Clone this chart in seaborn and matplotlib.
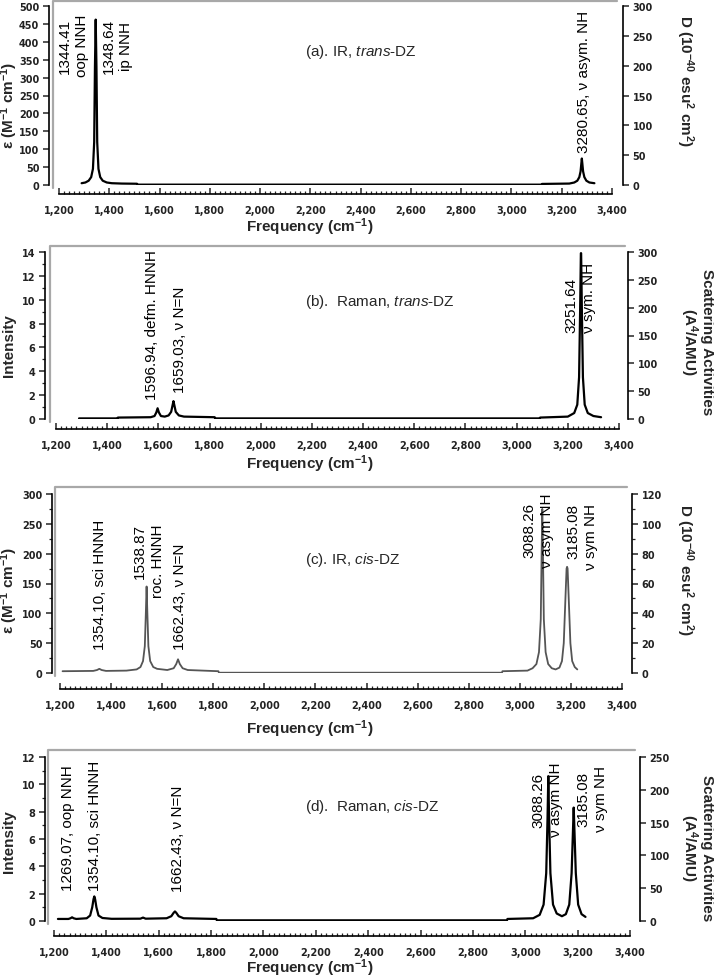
import matplotlib
matplotlib.use('Agg')
import matplotlib.pyplot as plt
import seaborn as sns
from matplotlib.ticker import MultipleLocator, FuncFormatter

# ---------------------------------------------------------
# data (wavenumber in cm-1, left-axis units)
# ---------------------------------------------------------
# (a) IR, trans-DZ  (epsilon)
wn_a = [1290, 1305, 1318, 1328, 1335, 1340, 1343, 1346, 1349, 1352, 1357, 1364,
        1374, 1390, 1410, 1450, 1510, 1512, 3120, 3122, 3230, 3250, 3262, 3270,
        3275, 3278, 3280, 3282, 3285, 3290, 3298, 3310, 3330]
eps_a = [5, 7, 12, 22, 45, 120, 330, 462, 330, 120, 45, 22,
         12, 7, 5, 4, 3.5, 1, 1, 3, 4, 7, 12, 22,
         38, 60, 74, 60, 38, 22, 12, 7, 5]

# (b) Raman, trans-DZ  (intensity)
wn_b = [1290, 1440, 1442, 1570, 1585, 1592, 1597, 1602, 1610, 1625, 1640, 1650,
        1656, 1659, 1662, 1668, 1680, 1700, 1820, 1822, 3090, 3092, 3200, 3225,
        3237, 3244, 3248, 3251, 3252, 3255, 3259, 3266, 3278, 3300, 3330]
int_b = [0.05, 0.05, 0.12, 0.15, 0.25, 0.55, 0.9, 0.55, 0.25, 0.2, 0.3, 0.6,
         1.2, 1.5, 1.2, 0.6, 0.3, 0.2, 0.15, 0.05, 0.05, 0.12, 0.2, 0.5,
         1.2, 3.5, 9, 13.9, 13.9, 9, 3.5, 1.2, 0.5, 0.25, 0.15]

# (c) IR, cis-DZ  (epsilon)
wn_c = [1210, 1330, 1345, 1354, 1363, 1380, 1460, 1500, 1515, 1525, 1532, 1536,
        1539, 1542, 1546, 1553, 1565, 1580, 1620, 1645, 1655, 1662, 1669, 1680,
        1700, 1820, 1822, 2930, 2932, 3030, 3050, 3065, 3075, 3082, 3086, 3088,
        3090, 3094, 3101, 3111, 3125, 3140, 3155, 3165, 3172, 3179, 3183, 3185,
        3187, 3191, 3198, 3205, 3215, 3225]
eps_c = [3, 3.5, 5, 7, 5, 3.5, 4, 6, 10, 20, 45, 100,
         145, 100, 45, 20, 10, 7, 5, 8, 15, 23, 15, 8,
         5, 3, 0.5, 0.5, 3, 4, 8, 15, 35, 90, 220, 275,
         220, 90, 35, 15, 8, 6, 9, 20, 50, 130, 175, 178,
         175, 130, 50, 20, 10, 6]

# (d) Raman, cis-DZ  (intensity)
wn_d = [1215, 1255, 1263, 1269, 1275, 1285, 1325, 1338, 1346, 1351, 1354, 1357,
        1362, 1370, 1385, 1420, 1530, 1540, 1550, 1630, 1648, 1657, 1662, 1667,
        1676, 1695, 1820, 1822, 2930, 2932, 3030, 3055, 3070, 3080, 3085, 3088,
        3091, 3096, 3106, 3120, 3140, 3155, 3168, 3177, 3182, 3185, 3188, 3193,
        3202, 3215, 3230]
int_d = [0.15, 0.15, 0.2, 0.27, 0.2, 0.15, 0.2, 0.4, 1.0, 1.6, 1.8, 1.6,
         1.0, 0.4, 0.22, 0.16, 0.17, 0.25, 0.17, 0.2, 0.35, 0.6, 0.7, 0.6,
         0.35, 0.2, 0.15, 0.05, 0.05, 0.15, 0.2, 0.45, 1.2, 3.5, 7.5, 10.6,
         7.5, 3.5, 1.2, 0.55, 0.35, 0.5, 1.2, 3.5, 6.5, 8.3, 6.5, 3.5,
         1.2, 0.5, 0.3]

titles = [r"(a). IR, $\mathit{trans}$-DZ", r"(b).  Raman, $\mathit{trans}$-DZ",
          r"(c). IR, $\mathit{cis}$-DZ", r"(d).  Raman, $\mathit{cis}$-DZ"]
left_labels = [r"ε (M$^{\mathbf{-1}}$ cm$^{\mathbf{-1}}$)", "Intensity",
               r"ε (M$^{\mathbf{-1}}$ cm$^{\mathbf{-1}}$)", "Intensity"]
right_labels = [r"D (10$^{\mathbf{-40}}$ esu$^{\mathbf{2}}$ cm$^{\mathbf{2}}$)",
                "Scattering Activities\n" + r"(A$^{\mathbf{4}}$/AMU)",
                r"D (10$^{\mathbf{-40}}$ esu$^{\mathbf{2}}$ cm$^{\mathbf{2}}$)",
                "Scattering Activities\n" + r"(A$^{\mathbf{4}}$/AMU)"]

notes_a = ["1344.41\noop NNH", "1348.64\nip NNH", "3280.65, ν asym. NH"]
notes_b = ["1596.94, defm. HNNH", "1659.03, ν N=N", "3251.64\nν sym. NH"]
notes_c = ["1354.10, sci HNNH", "1538.87\nroc. HNNH", "1662.43, ν N=N",
           "3088.26\nν asym NH", "3185.08\nν sym NH"]
notes_d = ["1269.07, oop NNH", "1354.10, sci HNNH", "1662.43, ν N=N",
           "3088.26\nν asym NH", "3185.08\nν sym NH"]

# ---------------------------------------------------------
# layout (pixels of the 714 x 979 image)
# ---------------------------------------------------------
W, H = 714, 979
panels = [
    dict(x=wn_a, y=eps_a, notes=notes_a, color='black', lw=1.6,
         x0=59, x1=612, y0=186, yt=7, xax=195, lsp=49, rsp=623,
         ftop=2, fleft=53, fright=617,
         lmax=500, lmaj=50, lmin=None, rmax=300, rmaj=50, rmin=None,
         note_pos=[(1256, 391, 'center'), (1433, 391, 'center'), (3288, 290, 'center')],
         title_y=52, ylab_l=105, ylab_r=(685, 81), xlab_y=227),
    dict(x=wn_b, y=int_b, notes=notes_b, color='black', lw=1.6,
         x0=56, x1=619, y0=420, yt=253, xax=430, lsp=45, rsp=628,
         ftop=247, fleft=50, fright=625,
         lmax=14, lmaj=2, lmin=1, rmax=300, rmaj=50, rmin=None,
         note_pos=[(1575, 7.92, 'center'), (1685, 6.7, 'center'), (3248, 10.27, 'left')],
         title_y=302, ylab_l=346, ylab_r=(696, 342), xlab_y=464),
    dict(x=wn_c, y=eps_c, notes=notes_c, color='#555555', lw=1.3,
         x0=60, x1=622, y0=674, yt=495, xax=690, lsp=52, rsp=632,
         ftop=488, fleft=55, fright=627,
         lmax=300, lmaj=50, lmin=25, rmax=120, rmaj=20, rmin=10,
         note_pos=[(1357, 149, 'center'), (1548, 189, 'right'), (1670, 129, 'center'),
                   (3073, 240, 'center'), (3243, 229, 'right')],
         title_y=560, ylab_l=590, ylab_r=(685, 570), xlab_y=729),
    dict(x=wn_d, y=int_d, notes=notes_d, color='black', lw=1.6,
         x0=54, x1=630, y0=922, yt=758, xax=937, lsp=45, rsp=640,
         ftop=751, fleft=48, fright=635,
         lmax=12, lmaj=2, lmin=1, rmax=250, rmaj=50, rmin=None,
         note_pos=[(1253, 6.88, 'center'), (1357, 7.06, 'center'), (1674, 6.07, 'center'),
                   (3083, 8.92, 'center'), (3257, 9.0, 'center')],
         title_y=807, ylab_l=842, ylab_r=(696, 848), xlab_y=968),
]

sns.set_style('ticks')
plt.rcParams['font.family'] = ['Liberation Sans', 'DejaVu Sans']
plt.rcParams['mathtext.fontset'] = 'custom'
plt.rcParams['mathtext.rm'] = 'Liberation Sans'
plt.rcParams['mathtext.it'] = 'Liberation Sans:italic'
plt.rcParams['mathtext.bf'] = 'Liberation Sans:bold'

fig = plt.figure(figsize=(W / 100, H / 100), dpi=100)
PT = 0.72  # points per pixel at dpi 100
tickfont = dict(family='DejaVu Sans', size=7, weight='bold')


def fx(px):
    return px / W


def fy(py):
    return 1 - py / H


for i, p in enumerate(panels):
    # gray chart-area frame (top and left edges only)
    fig.add_artist(plt.Line2D([fx(p['fleft']), fx(p['fleft']), fx(p['fright'])],
                              [fy(p['y0'] + 3), fy(p['ftop']), fy(p['ftop'])],
                              color='#a8a8a8', lw=1.6, zorder=0))

    ax = fig.add_axes([fx(p['x0']), fy(p['y0']), (p['x1'] - p['x0']) / W,
                       (p['y0'] - p['yt']) / H])
    ax.patch.set_alpha(0)
    sns.lineplot(x=p['x'], y=p['y'], ax=ax, color=p['color'], lw=p['lw'],
                 estimator=None, sort=False)
    ax.set_xlim(1200, 3400)
    ax.set_ylim(0, p['lmax'])

    ax.spines['top'].set_visible(False)
    ax.spines['right'].set_visible(False)
    ax.spines['bottom'].set_position(('outward', (p['xax'] - p['y0']) * PT))
    ax.spines['left'].set_position(('outward', (p['x0'] - p['lsp']) * PT))
    for s in ['bottom', 'left']:
        ax.spines[s].set_linewidth(1.2)
        ax.spines[s].set_color('black')

    ax.xaxis.set_major_locator(MultipleLocator(200))
    ax.xaxis.set_minor_locator(MultipleLocator(20))
    ax.xaxis.set_major_formatter(FuncFormatter(lambda v, _: f"{v:,.0f}"))
    ax.tick_params(axis='x', which='major', direction='in', length=4.5, width=1.1, pad=8)
    ax.tick_params(axis='x', which='minor', direction='in', length=2.5, width=0.9)

    ax.yaxis.set_major_locator(MultipleLocator(p['lmaj']))
    if p['lmin']:
        ax.yaxis.set_minor_locator(MultipleLocator(p['lmin']))
    ax.tick_params(axis='y', which='major', direction='out', length=4, width=1.1, pad=3)
    ax.tick_params(axis='y', which='minor', direction='out', length=2.5, width=0.9)
    for lab in ax.get_xticklabels() + ax.get_yticklabels():
        lab.set_fontproperties(tickfont)
        lab.set_color('#222222')
    ax.set_xlabel('')
    ax.set_ylabel('')

    ax2 = ax.twinx()
    ax2.set_ylim(0, p['rmax'])
    for s in ['top', 'left', 'bottom']:
        ax2.spines[s].set_visible(False)
    ax2.spines['right'].set_position(('outward', (p['rsp'] - p['x1']) * PT))
    ax2.spines['right'].set_linewidth(1.2)
    ax2.spines['right'].set_color('black')
    ax2.yaxis.set_major_locator(MultipleLocator(p['rmaj']))
    if p['rmin']:
        ax2.yaxis.set_minor_locator(MultipleLocator(p['rmin']))
    ax2.tick_params(axis='y', which='major', direction='out', length=4, width=1.1, pad=3)
    ax2.tick_params(axis='y', which='minor', direction='out', length=2.5, width=0.9)
    for lab in ax2.get_yticklabels():
        lab.set_fontproperties(tickfont)
        lab.set_color('#222222')

    # peak annotations
    for txt, (nx, ny, ma) in zip(p['notes'], p['note_pos']):
        ax.text(nx, ny, txt, rotation=90, ha='center', va='center',
                multialignment=ma, linespacing=1.3, fontsize=11, color='black',
                clip_on=False)

    # panel title
    fig.text(fx(305), fy(p['title_y']), titles[i], ha='left', va='center', fontsize=11)

    # axis labels
    fig.text(fx(9), fy(p['ylab_l']), left_labels[i], rotation=90, ha='center',
             va='center', fontsize=11, fontweight='bold')
    fig.text(fx(p['ylab_r'][0]), fy(p['ylab_r'][1]), right_labels[i], rotation=270,
             ha='center', va='center', fontsize=11, fontweight='bold',
             multialignment='center', linespacing=1.0)
    fig.text(fx(310), fy(p['xlab_y']), r"Frequency (cm$^{\mathbf{-1}}$)",
             ha='center', va='center', fontsize=11, fontweight='bold')

fig.savefig('out.png', dpi=100)
